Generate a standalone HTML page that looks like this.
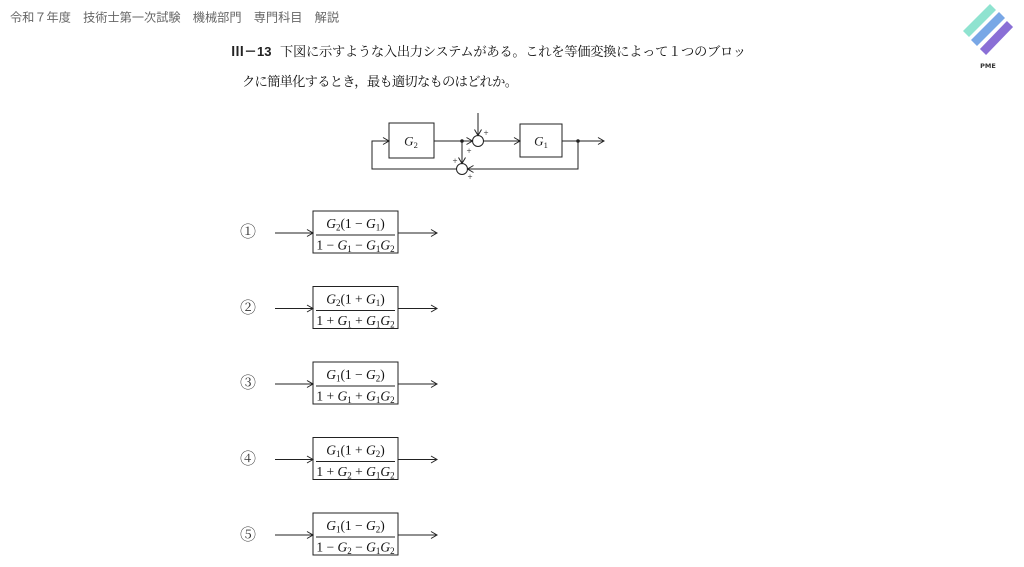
<!DOCTYPE html>
<html><head><meta charset="utf-8"><style>
html,body{margin:0;padding:0;background:#fff;}
body{width:1024px;height:567px;overflow:hidden;position:relative;}
svg{position:absolute;left:0;top:0;}
</style></head><body>
<svg width="1024" height="567" viewBox="0 0 1024 567" xmlns="http://www.w3.org/2000/svg">
<rect width="1024" height="567" fill="#fff"/>
<!-- header -->
<text x="10" y="21.5" font-family="'Liberation Sans','Noto Sans CJK JP',sans-serif" font-size="12.2" fill="#666">令和７年度　技術士第一次試験　機械部門　専門科目　解説</text>
<!-- logo -->
<g stroke-linecap="butt">
<line x1="966" y1="34" x2="993" y2="7" stroke="#8fe3d0" stroke-width="8.5"/>
<line x1="974" y1="43" x2="1002" y2="15" stroke="#79a7e6" stroke-width="8.5"/>
<line x1="983" y1="52" x2="1010" y2="24" stroke="#8a6fd6" stroke-width="8.5"/>
</g>
<text x="988" y="68" text-anchor="middle" font-family="'DejaVu Sans',sans-serif" font-size="6.5" font-weight="bold" fill="#333">PME</text>
<!-- question -->
<text x="231" y="56" font-family="'Liberation Sans','Noto Sans CJK JP',sans-serif" font-size="13" font-weight="bold" fill="#222">Ⅲ－13</text>
<text x="280" y="56" font-family="'Liberation Serif','Noto Serif CJK SC',serif" font-size="13.3" fill="#111" textLength="466" lengthAdjust="spacing">下図に示すような入出力システムがある。これを等価変換によって１つのブロッ</text>
<text x="242" y="86" font-family="'Liberation Serif','Noto Serif CJK SC',serif" font-size="13.3" fill="#111" textLength="276" lengthAdjust="spacing">クに簡単化するとき，最も適切なものはどれか。</text>

<!-- block diagram -->
<g stroke="#222" stroke-width="1" fill="none">
<rect x="389" y="123" width="45" height="35"/>
<rect x="520" y="124" width="42" height="33"/>
<circle cx="478" cy="141" r="5.5"/>
<circle cx="462" cy="169" r="5.5"/>
<line x1="434" y1="141" x2="472.5" y2="141"/>
<line x1="478" y1="113" x2="478" y2="135.5"/>
<line x1="483.5" y1="141" x2="520" y2="141"/>
<line x1="562" y1="141" x2="604" y2="141"/>
<polyline points="578,141 578,169 467.5,169"/>
<line x1="462" y1="141" x2="462" y2="163.5"/>
<polyline points="456.5,169 372,169 372,141 389,141"/>
<!-- arrowheads -->
<polyline points="466.5,137.5 472.5,141 466.5,144.5"/>
<polyline points="474.5,129.5 478,135.5 481.5,129.5"/>
<polyline points="514,137.5 520,141 514,144.5"/>
<polyline points="598,137.5 604,141 598,144.5"/>
<polyline points="473.5,165.5 467.5,169 473.5,172.5"/>
<polyline points="458.5,157.5 462,163.5 465.5,157.5"/>
<polyline points="383,137.5 389,141 383,144.5"/>
</g>
<circle cx="462" cy="141" r="1.8" fill="#222"/>
<circle cx="578" cy="141" r="1.8" fill="#222"/>
<g font-family="'Liberation Serif',serif" font-size="9" fill="#222" text-anchor="middle">
<text x="486" y="136">+</text>
<text x="469" y="154">+</text>
<text x="455" y="164">+</text>
<text x="470" y="180">+</text>
</g>
<g font-family="'Liberation Serif',serif" font-size="13" fill="#222" text-anchor="middle">
<text x="411" y="145.5"><tspan font-style="italic">G</tspan><tspan font-size="8.5" dy="2.5">2</tspan></text>
<text x="541" y="145.5"><tspan font-style="italic">G</tspan><tspan font-size="8.5" dy="2.5">1</tspan></text>
</g>

<!-- options -->
<g font-family="'Liberation Serif','Noto Serif CJK SC',serif" font-size="16" fill="#333" text-anchor="middle">
<text x="248" y="237">①</text>
<text x="248" y="313">②</text>
<text x="248" y="388">③</text>
<text x="248" y="464">④</text>
<text x="248" y="540">⑤</text>
</g>

<g stroke="#222" stroke-width="1" fill="none">
<rect x="313" y="211" width="85" height="42"/>
<rect x="313" y="286.5" width="85" height="42"/>
<rect x="313" y="362" width="85" height="42"/>
<rect x="313" y="437.5" width="85" height="42"/>
<rect x="313" y="513" width="85" height="42"/>
<line x1="316" y1="235" x2="395" y2="235"/>
<line x1="316" y1="310.5" x2="395" y2="310.5"/>
<line x1="316" y1="386" x2="395" y2="386"/>
<line x1="316" y1="461.5" x2="395" y2="461.5"/>
<line x1="316" y1="537" x2="395" y2="537"/>
<line x1="275" y1="233" x2="313" y2="233"/><polyline points="307,229.5 313,233 307,236.5"/>
<line x1="398" y1="233" x2="437" y2="233"/><polyline points="431,229.5 437,233 431,236.5"/>
<line x1="275" y1="308.5" x2="313" y2="308.5"/><polyline points="307,305 313,308.5 307,312"/>
<line x1="398" y1="308.5" x2="437" y2="308.5"/><polyline points="431,305 437,308.5 431,312"/>
<line x1="275" y1="384" x2="313" y2="384"/><polyline points="307,380.5 313,384 307,387.5"/>
<line x1="398" y1="384" x2="437" y2="384"/><polyline points="431,380.5 437,384 431,387.5"/>
<line x1="275" y1="459.5" x2="313" y2="459.5"/><polyline points="307,456 313,459.5 307,463"/>
<line x1="398" y1="459.5" x2="437" y2="459.5"/><polyline points="431,456 437,459.5 431,463"/>
<line x1="275" y1="535" x2="313" y2="535"/><polyline points="307,531.5 313,535 307,538.5"/>
<line x1="398" y1="535" x2="437" y2="535"/><polyline points="431,531.5 437,535 431,538.5"/>
</g>

<g font-family="'Liberation Serif',serif" font-size="13.5" fill="#111" text-anchor="middle">
<text x="355.5" y="228"><tspan font-style="italic">G</tspan><tspan font-size="9" dy="2.5">2</tspan><tspan dy="-2.5">(1 − </tspan><tspan font-style="italic">G</tspan><tspan font-size="9" dy="2.5">1</tspan><tspan dy="-2.5">)</tspan></text>
<text x="355.5" y="249.5"><tspan>1 − </tspan><tspan font-style="italic">G</tspan><tspan font-size="9" dy="2.5">1</tspan><tspan dy="-2.5"> − </tspan><tspan font-style="italic">G</tspan><tspan font-size="9" dy="2.5">1</tspan><tspan dy="-2.5" font-style="italic">G</tspan><tspan font-size="9" dy="2.5">2</tspan></text>
<text x="355.5" y="303.5"><tspan font-style="italic">G</tspan><tspan font-size="9" dy="2.5">2</tspan><tspan dy="-2.5">(1 + </tspan><tspan font-style="italic">G</tspan><tspan font-size="9" dy="2.5">1</tspan><tspan dy="-2.5">)</tspan></text>
<text x="355.5" y="325"><tspan>1 + </tspan><tspan font-style="italic">G</tspan><tspan font-size="9" dy="2.5">1</tspan><tspan dy="-2.5"> + </tspan><tspan font-style="italic">G</tspan><tspan font-size="9" dy="2.5">1</tspan><tspan dy="-2.5" font-style="italic">G</tspan><tspan font-size="9" dy="2.5">2</tspan></text>
<text x="355.5" y="379"><tspan font-style="italic">G</tspan><tspan font-size="9" dy="2.5">1</tspan><tspan dy="-2.5">(1 − </tspan><tspan font-style="italic">G</tspan><tspan font-size="9" dy="2.5">2</tspan><tspan dy="-2.5">)</tspan></text>
<text x="355.5" y="400.5"><tspan>1 + </tspan><tspan font-style="italic">G</tspan><tspan font-size="9" dy="2.5">1</tspan><tspan dy="-2.5"> + </tspan><tspan font-style="italic">G</tspan><tspan font-size="9" dy="2.5">1</tspan><tspan dy="-2.5" font-style="italic">G</tspan><tspan font-size="9" dy="2.5">2</tspan></text>
<text x="355.5" y="454.5"><tspan font-style="italic">G</tspan><tspan font-size="9" dy="2.5">1</tspan><tspan dy="-2.5">(1 + </tspan><tspan font-style="italic">G</tspan><tspan font-size="9" dy="2.5">2</tspan><tspan dy="-2.5">)</tspan></text>
<text x="355.5" y="476"><tspan>1 + </tspan><tspan font-style="italic">G</tspan><tspan font-size="9" dy="2.5">2</tspan><tspan dy="-2.5"> + </tspan><tspan font-style="italic">G</tspan><tspan font-size="9" dy="2.5">1</tspan><tspan dy="-2.5" font-style="italic">G</tspan><tspan font-size="9" dy="2.5">2</tspan></text>
<text x="355.5" y="530"><tspan font-style="italic">G</tspan><tspan font-size="9" dy="2.5">1</tspan><tspan dy="-2.5">(1 − </tspan><tspan font-style="italic">G</tspan><tspan font-size="9" dy="2.5">2</tspan><tspan dy="-2.5">)</tspan></text>
<text x="355.5" y="551.5"><tspan>1 − </tspan><tspan font-style="italic">G</tspan><tspan font-size="9" dy="2.5">2</tspan><tspan dy="-2.5"> − </tspan><tspan font-style="italic">G</tspan><tspan font-size="9" dy="2.5">1</tspan><tspan dy="-2.5" font-style="italic">G</tspan><tspan font-size="9" dy="2.5">2</tspan></text>
</g>
</svg>
</body></html>
